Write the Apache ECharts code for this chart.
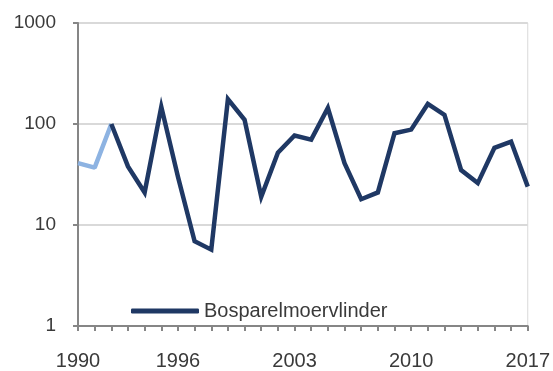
<!DOCTYPE html>
<html>
<head>
<meta charset="utf-8">
<script src="https://cdn.jsdelivr.net/npm/echarts@6/dist/echarts.min.js"></script>
<style>
  html, body { margin: 0; padding: 0; background: #fff; }
  #chart { width: 553px; height: 371px; }
</style>
</head>
<body>
<div id="chart"></div>
<script>
// Yearly index counts, 1990-2017
const years = [1990,1991,1992,1993,1994,1995,1996,1997,1998,1999,2000,2001,2002,2003,
               2004,2005,2006,2007,2008,2009,2010,2011,2012,2013,2014,2015,2016,2017];
const counts = [41,37,100,38,21,148,30,6.9,5.7,176,110,19,52,77,
                70,144,41,18,21,81,88,158,123,35,26,58,67,24];
// Early years drawn in a lighter tone (through 1992), the rest in the main colour
const earlyEnd = 1992;
const labelYears = [1990, 1996, 2003, 2010, 2017];
const yTicks = [1, 10, 100, 1000];
const seriesName = 'Bosparelmoervlinder';

const earlyData = years.map((y, i) => (y <= earlyEnd ? counts[i] : null));
const mainData = years.map((y, i) => (y >= earlyEnd ? counts[i] : null));

const chart = echarts.init(document.getElementById('chart'));
const fontFamily = 'Liberation Sans';
const textColor = '#3a3a3a';

chart.setOption({
  animation: false,
  grid: {
    left: 78, right: 25, top: 23, bottom: 43,
    show: true, borderColor: '#d9d9d9', borderWidth: 1, containLabel: false
  },
  legend: {
    data: [seriesName],
    left: 126, top: 296,
    itemWidth: 68, itemHeight: 5, itemGap: 6,
    icon: 'roundRect',
    textStyle: { color: textColor, fontSize: 20, fontFamily: fontFamily }
  },
  xAxis: {
    type: 'category',
    data: years.map(String),
    boundaryGap: false,
    axisLine: { lineStyle: { color: '#868686', width: 2 } },
    axisTick: { show: true, interval: 0, length: 5, lineStyle: { color: '#868686', width: 2 } },
    axisLabel: {
      interval: (idx, val) => labelYears.includes(Number(val)),
      margin: 25,
      color: textColor, fontSize: 20, fontFamily: fontFamily
    },
    splitLine: { show: false }
  },
  yAxis: {
    type: 'log',
    logBase: 10,
    min: yTicks[0],
    max: yTicks[yTicks.length - 1],
    axisLine: { show: true, lineStyle: { color: '#868686', width: 2 } },
    axisTick: { show: true, length: 5, lineStyle: { color: '#868686', width: 2 } },
    axisLabel: {
      margin: 22,
      color: textColor, fontSize: 19, fontFamily: fontFamily,
      formatter: (v) => String(Math.round(v))
    },
    splitLine: { show: true, lineStyle: { color: '#d9d9d9', width: 2 } },
    minorTick: { show: false }
  },
  series: [
    {
      name: 'early',
      type: 'line',
      data: earlyData,
      symbol: 'none',
      connectNulls: false,
      lineStyle: { color: '#8db3e2', width: 4.5 },
      itemStyle: { color: '#8db3e2' },
      z: 2
    },
    {
      name: seriesName,
      type: 'line',
      data: mainData,
      symbol: 'none',
      connectNulls: false,
      lineStyle: { color: '#1f3864', width: 4.5, join: 'miter' },
      itemStyle: { color: '#1f3864' },
      z: 3
    }
  ]
});
</script>
</body>
</html>
